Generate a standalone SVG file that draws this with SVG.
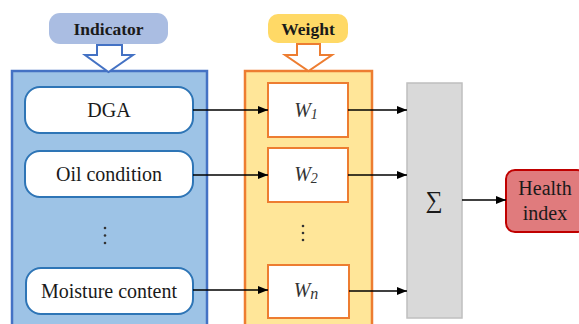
<svg xmlns="http://www.w3.org/2000/svg" width="579" height="324" viewBox="0 0 579 324" font-family="'Times New Roman', 'Liberation Serif', serif">
<defs>
<marker id="ah" viewBox="0 0 10 8" refX="10" refY="4" markerWidth="10" markerHeight="8" markerUnits="userSpaceOnUse" orient="auto">
<path d="M0,0 L10,4 L0,8 Z" fill="#000"/>
</marker>
</defs>
<rect width="579" height="324" fill="#fff"/>

<g id="indicator-panel">
<rect x="12" y="71" width="195" height="260" fill="#9dc3e6" stroke="#4472c4" stroke-width="2.5"/>
</g>
<g id="indicator-label">
<rect x="49" y="13" width="119" height="31" rx="11" fill="#aabde2"/>
<text x="108.5" y="35" font-size="17.5" font-weight="bold" text-anchor="middle" fill="#1a1a1a" font-family="'Times New Roman', 'Liberation Serif', serif">Indicator</text>
<path d="M97,45 H122 V55 H133 L108.5,72 L85,55 H97 Z" fill="#fff" stroke="#4472c4" stroke-width="2"/>
</g>

<g id="weight-panel">
<rect x="245" y="71" width="127" height="260" fill="#ffe699" stroke="#ed7d31" stroke-width="2.5"/>
</g>
<g id="weight-label">
<rect x="268" y="14" width="80" height="29" rx="10" fill="#ffd966"/>
<text x="308" y="35" font-size="17.5" font-weight="bold" text-anchor="middle" fill="#1a1a1a" font-family="'Times New Roman', 'Liberation Serif', serif">Weight</text>
<path d="M297,44 H320 V55 H332 L308.5,71 L285,55 H297 Z" fill="#fff" stroke="#ed7d31" stroke-width="2"/>
</g>

<g id="dga">
<rect x="25" y="87" width="168" height="46" rx="15" fill="#fff" stroke="#2e75b6" stroke-width="2"/>
<text x="109" y="117" font-size="20" text-anchor="middle" fill="#1a1a1a" font-family="'Times New Roman', 'Liberation Serif', serif">DGA</text>
</g>
<g id="oil-condition">
<rect x="25" y="151" width="168" height="46" rx="15" fill="#fff" stroke="#2e75b6" stroke-width="2"/>
<text x="109" y="181" font-size="20" text-anchor="middle" fill="#1a1a1a" font-family="'Times New Roman', 'Liberation Serif', serif">Oil condition</text>
</g>
<g id="indicator-dots" fill="#333">
<circle cx="105" cy="228" r="1.3"/>
<circle cx="105" cy="235.5" r="1.3"/>
<circle cx="105" cy="243" r="1.3"/>
</g>
<g id="moisture-content">
<rect x="26" y="268" width="167" height="46" rx="15" fill="#fff" stroke="#2e75b6" stroke-width="2"/>
<text x="109" y="298" font-size="20" text-anchor="middle" fill="#1a1a1a" font-family="'Times New Roman', 'Liberation Serif', serif">Moisture content</text>
</g>

<g id="w1">
<rect x="268" y="83" width="80" height="54" fill="#fff" stroke="#ed7d31" stroke-width="2"/>
<text x="306" y="117" font-size="20" font-style="italic" text-anchor="middle" fill="#333" font-family="'Times New Roman', 'Liberation Serif', serif">W<tspan font-size="14" dy="2">1</tspan></text>
</g>
<g id="w2">
<rect x="268" y="148" width="80" height="54" fill="#fff" stroke="#ed7d31" stroke-width="2"/>
<text x="306" y="181" font-size="20" font-style="italic" text-anchor="middle" fill="#333" font-family="'Times New Roman', 'Liberation Serif', serif">W<tspan font-size="14" dy="2">2</tspan></text>
</g>
<g id="weight-dots" fill="#333">
<circle cx="303" cy="226" r="1.3"/>
<circle cx="303" cy="233" r="1.3"/>
<circle cx="303" cy="240" r="1.3"/>
</g>
<g id="wn">
<rect x="268" y="265" width="81" height="53" fill="#fff" stroke="#ed7d31" stroke-width="2"/>
<text x="306" y="297" font-size="20" font-style="italic" text-anchor="middle" fill="#333" font-family="'Times New Roman', 'Liberation Serif', serif">W<tspan font-size="16" dy="2">n</tspan></text>
</g>

<g id="sum">
<rect x="407" y="83" width="55" height="235" fill="#d9d9d9" stroke="#bfbfbf" stroke-width="1.5"/>
<text x="434" y="208" font-size="24" text-anchor="middle" fill="#1a1a1a" font-family="'Times New Roman', 'Liberation Serif', serif">∑</text>
</g>

<g id="health-index">
<rect x="506" y="170" width="80" height="62" rx="9" fill="#e07b7d" stroke="#c00000" stroke-width="2"/>
<text x="545" y="195" font-size="20" text-anchor="middle" fill="#1a1a1a" font-family="'Times New Roman', 'Liberation Serif', serif">Health</text>
<text x="545" y="220" font-size="20" text-anchor="middle" fill="#1a1a1a" font-family="'Times New Roman', 'Liberation Serif', serif">index</text>
</g>

<g id="connectors" stroke="#000" stroke-width="1.3" fill="none" marker-end="url(#ah)">
<line x1="193" y1="110" x2="268" y2="110"/>
<line x1="193" y1="175" x2="268" y2="175"/>
<line x1="193" y1="290" x2="268" y2="290"/>
<line x1="348" y1="110" x2="407" y2="110"/>
<line x1="348" y1="175" x2="407" y2="175"/>
<line x1="349" y1="291" x2="407" y2="291"/>
<line x1="462" y1="200" x2="506" y2="200"/>
</g>
</svg>
